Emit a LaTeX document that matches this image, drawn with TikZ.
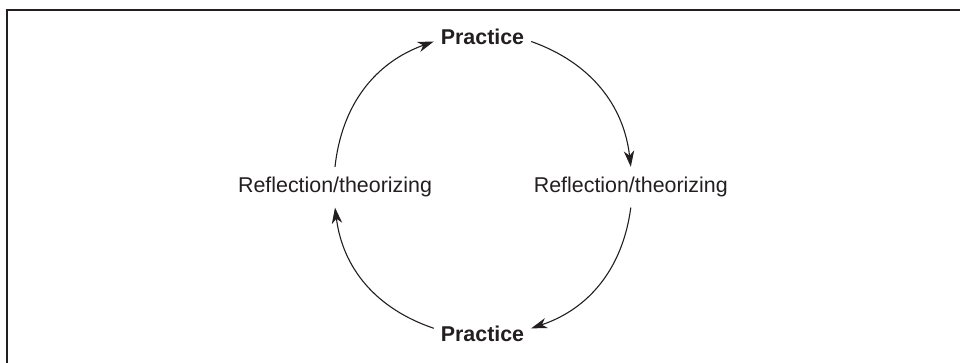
\documentclass[tikz,border=0pt]{standalone}
\usepackage{fontspec}
\setmainfont{Liberation Sans}
\usepackage{xcolor}
\definecolor{inkblack}{RGB}{35, 31, 32}
\usepackage{tikz}
\usetikzlibrary{arrows.meta, positioning}

\begin{document}
\begin{tikzpicture}[x=0.5pt, y=0.5pt, >={Stealth[length=8pt, width=5.2pt, inset=2.4pt]},
    phase/.style={font=\fontsize{10.7}{13}\selectfont\bfseries, text=inkblack},
    reflect/.style={font=\fontsize{10.7}{13}\selectfont, text=inkblack, inner ysep=5pt},
    cyclearrow/.style={->, inkblack, line width=0.55pt}]
    \useasboundingbox (0,0) rectangle (960,363);
    % frame, only top and left edges
    \draw[line width=0.9pt, inkblack] (7,0) |- (960,353);
    % stages round the loop
    \node[phase] (pracT) at (482.5,326.5) {Practice};
    \node[phase] (pracB) at (482.5,28.7) {Practice};
    \node[reflect] (reflL) at (335,175.8) {Reflection/theorizing};
    \node[reflect] (reflR) at (630.8,175.8) {Reflection/theorizing};
    % clockwise arcs between them
    \draw[cyclearrow] (reflL.north) to[bend left=32] ([yshift=-2.5pt]pracT.west);
    \draw[cyclearrow] ([yshift=-2.5pt]pracT.east) to[bend left=32] (reflR.north);
    \draw[cyclearrow] (reflR.south) to[bend left=32] ([yshift=3pt]pracB.east);
    \draw[cyclearrow] ([yshift=3pt]pracB.west) to[bend left=32] (reflL.south);
\end{tikzpicture}
\end{document}
